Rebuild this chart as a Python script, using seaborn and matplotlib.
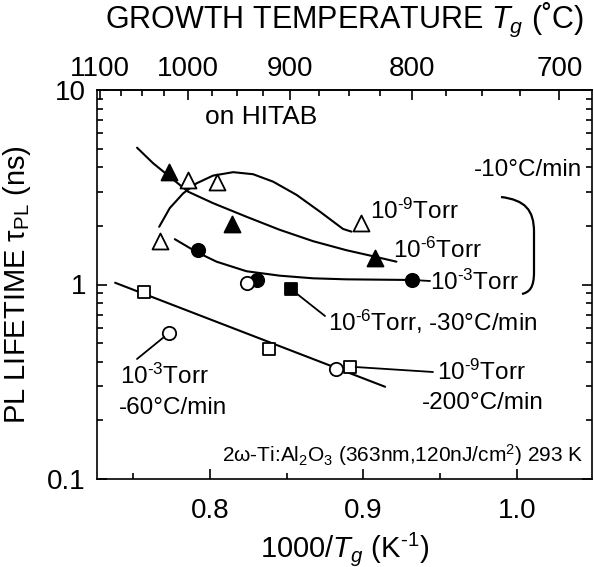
import numpy as np
import seaborn as sns
import matplotlib.pyplot as plt
from matplotlib.path import Path
from matplotlib.patches import PathPatch
from matplotlib.ticker import FixedLocator, LogLocator, NullFormatter, MultipleLocator

# valores: x = 1000/Tg (1/K), y = tiempo de vida PL (ns)
# serie -10 C/min
tri_open_x = [0.7674, 0.7859, 0.8048, 0.8982]   # 1e-9 Torr
tri_open_y = [1.67, 3.45, 3.35, 2.06]
tri_fill_x = [0.7735, 0.8145, 0.9075]           # 1e-6 Torr
tri_fill_y = [3.78, 2.04, 1.37]
circ_fill_x = [0.7924, 0.8308, 0.9320]          # 1e-3 Torr
circ_fill_y = [1.50, 1.055, 1.055]

# otras velocidades de enfriamiento
sq_fill_x = [0.8528]                            # 1e-6 Torr, -30 C/min
sq_fill_y = [0.948]
circ_open_x = [0.7731, 0.8243, 0.8823]          # 1e-3 Torr, -60 C/min
circ_open_y = [0.561, 1.014, 0.366]
sq_open_x = [0.7568, 0.8386, 0.8914]            # 1e-9 Torr, -200 C/min
sq_open_y = [0.912, 0.466, 0.378]

# curvas guia (trazadas a mano en el original)
guide6_x = [0.7526, 0.7631, 0.7739, 0.7859, 0.8021, 0.8239, 0.8456, 0.8673, 0.8891, 0.9042, 0.9216]
guide6_y = [5.05, 4.20, 3.58, 3.00, 2.62, 2.23, 1.91, 1.67, 1.50, 1.41, 1.31]
guide9_x = [0.7670, 0.7739, 0.7826, 0.7913, 0.8021, 0.8152, 0.8282, 0.8412, 0.8565, 0.8717, 0.8868, 0.8923]
guide9_y = [1.98, 2.47, 2.94, 3.31, 3.63, 3.78, 3.69, 3.38, 2.89, 2.37, 1.93, 1.87]
guide3_x = [0.7772, 0.7913, 0.8044, 0.8239, 0.8456, 0.8673, 0.8891, 0.9314]
guide3_y = [1.71, 1.47, 1.31, 1.17, 1.11, 1.076, 1.063, 1.055]
guide_fast_x = [0.7383, 0.9142]
guide_fast_y = [1.021, 0.298]

top_ticks = [1100, 1000, 900, 800, 700]
y_ticks = [0.1, 1, 10]
y_labels = ['0.1', '1', '10']

W, H = 594, 567

sns.set_style('ticks')
plt.rcParams['font.family'] = ['Liberation Sans', 'DejaVu Sans']
plt.rcParams['mathtext.fontset'] = 'custom'
plt.rcParams['mathtext.rm'] = 'Liberation Sans'
plt.rcParams['mathtext.it'] = 'Liberation Sans:italic'
plt.rcParams['mathtext.bf'] = 'Liberation Sans:bold'
plt.rcParams['axes.linewidth'] = 1.2
for k in ['text.color', 'axes.labelcolor', 'axes.edgecolor', 'xtick.color', 'ytick.color']:
    plt.rcParams[k] = 'black'

fig = plt.figure(figsize=(W / 100, H / 100), dpi=100)
ax = fig.add_axes([97 / W, 1 - 479 / H, (592 - 97) / W, (479 - 90) / H])


def fp(x, y):
    # pixel (desde arriba-izquierda) -> fraccion de figura
    return (x / W, 1 - y / H)


# curvas
for gx, gy in [(guide6_x, guide6_y), (guide9_x, guide9_y), (guide3_x, guide3_y), (guide_fast_x, guide_fast_y)]:
    sns.lineplot(x=gx, y=gy, sort=False, estimator=None, color='black', lw=1.5, ax=ax, zorder=2)

# marcadores
mk = dict(color='black', edgecolor='black', linewidth=1.3, zorder=3, ax=ax, legend=False)
sns.scatterplot(x=tri_open_x, y=tri_open_y, marker='^', s=11.5 ** 2, facecolor='white', **mk)
sns.scatterplot(x=tri_fill_x, y=tri_fill_y, marker='^', s=11.5 ** 2, facecolor='black', **mk)
sns.scatterplot(x=circ_fill_x, y=circ_fill_y, marker='o', s=9.6 ** 2, facecolor='black', **mk)
sns.scatterplot(x=sq_fill_x, y=sq_fill_y, marker='s', s=9 ** 2, facecolor='black', **mk)
sns.scatterplot(x=circ_open_x, y=circ_open_y, marker='o', s=9.6 ** 2, facecolor='white', **mk)
sns.scatterplot(x=sq_open_x, y=sq_open_y, marker='s', s=9 ** 2, facecolor='white', **mk)

ax.set_yscale('log')
ax.set_xlim(0.7265, 1.049)
ax.set_ylim(0.1, 10)
ax.set_yticks(y_ticks)
ax.set_yticklabels(y_labels)
ax.yaxis.set_minor_locator(LogLocator(base=10, subs=np.arange(2, 10)))
ax.yaxis.set_minor_formatter(NullFormatter())
ax.xaxis.set_major_locator(MultipleLocator(0.1))
ax.xaxis.set_minor_locator(MultipleLocator(0.05))
ax.xaxis.set_major_formatter(plt.FuncFormatter(lambda v, p: f'{v:.1f}'))
ax.tick_params(which='both', direction='in', top=False, right=True, width=1.2, labelsize=20)
ax.tick_params(axis='x', pad=14)
ax.tick_params(axis='y', pad=8)
ax.tick_params(which='major', length=7)
ax.tick_params(which='minor', length=4)

ax.set_xlabel('1000/$T_g$ (K$^{‐1}$)', fontsize=21, labelpad=4)
ax.set_ylabel(r'PL LIFETIME τ$_{\mathrm{PL}}$ (ns)', fontsize=21, labelpad=10)


def to_c(x):
    with np.errstate(divide='ignore'):
        return 1000.0 / np.asarray(x, dtype=float) - 273.0


def to_k(t):
    with np.errstate(divide='ignore'):
        return 1000.0 / (np.asarray(t, dtype=float) + 273.0)


secax = ax.secondary_xaxis('top', functions=(to_c, to_k))
secax.set_xticks(top_ticks)
secax.set_xticklabels([str(t) for t in top_ticks])
secax.xaxis.set_minor_locator(FixedLocator(np.arange(700, 1101, 25)))
secax.tick_params(which='both', direction='in', width=1.2, labelsize=20, pad=6)
secax.tick_params(which='major', length=7)
secax.tick_params(which='minor', length=4)
secax.set_xlabel('GROWTH TEMPERATURE $T_g$ (˚C)', fontsize=22, labelpad=20)

# lineas guia hacia etiquetas
leaders = [((circ_open_x[0], circ_open_y[0]), (137, 359)),
           ((sq_fill_x[0], sq_fill_y[0]), (325, 316)),
           ((sq_open_x[2], sq_open_y[2]), (433, 372)),
           ((circ_fill_x[2], circ_fill_y[2]), (430, 281))]
for xy, pt in leaders:
    ax.annotate('', xy=xy, xycoords='data', xytext=fp(*pt), textcoords='figure fraction',
                arrowprops=dict(arrowstyle='-', color='black', lw=1.3, shrinkA=0, shrinkB=4))

fs = 17.5
labels = [('on HITAB', 205, 117, 19),
          ('10$^{‐9}$Torr', 370, 211, fs),
          ('10$^{‐6}$Torr', 393, 250, fs),
          ('10$^{‐3}$Torr', 430, 282, fs),
          ('10$^{‐6}$Torr, -30°C/min', 328, 322, fs),
          ('10$^{‐3}$Torr', 120, 376, fs),
          ('-60°C/min', 119, 408, fs),
          ('10$^{‐9}$Torr', 437, 372, fs),
          ('-200°C/min', 422, 403, fs)]
for txt, x, y, size in labels:
    fig.text(*fp(x, y), txt, fontsize=size, ha='left', va='center')
fig.text(*fp(582, 170), '-10°C/min', fontsize=fs, ha='right', va='center')
fig.text(*fp(583, 455), '2ω-Ti:Al$_2$O$_3$ (363nm,120nJ/cm$^2$) 293 K', fontsize=15, ha='right', va='center')

# llave del grupo -10 C/min
verts = [fp(501, 197), fp(525, 200), fp(534, 210), fp(534, 232),
         fp(534, 272), fp(534, 287), fp(530, 292), fp(522, 294)]
codes = [Path.MOVETO, Path.CURVE4, Path.CURVE4, Path.CURVE4,
         Path.LINETO, Path.CURVE4, Path.CURVE4, Path.CURVE4]
fig.patches.append(PathPatch(Path(verts, codes), transform=fig.transFigure,
                             fill=False, lw=1.6, color='black'))

fig.savefig('out.png', dpi=100)
